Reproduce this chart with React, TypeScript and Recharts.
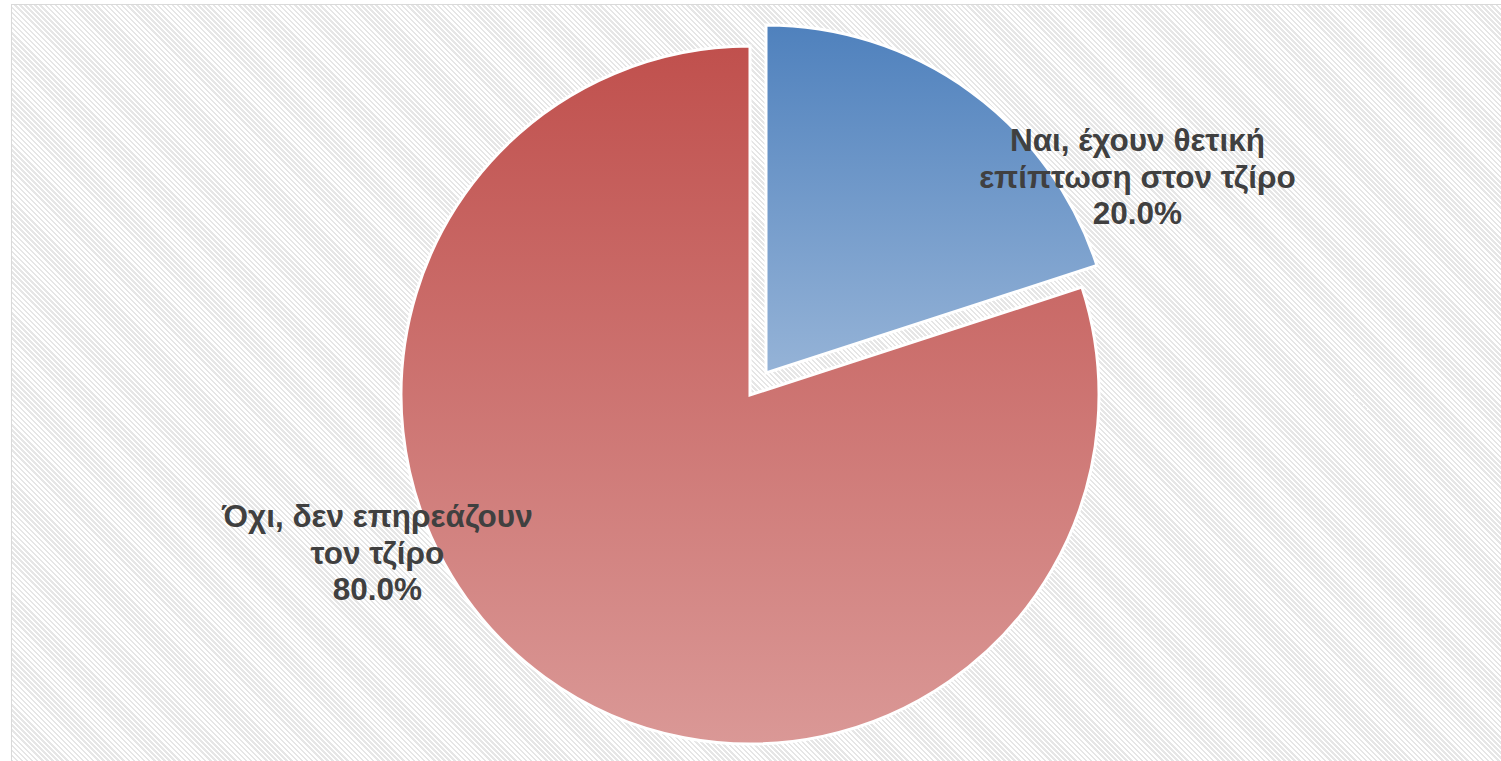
import { PieChart, Pie, Cell } from 'recharts'

const labels = ['Ναι, έχουν θετική|επίπτωση στον τζίρο', 'Όχι, δεν επηρεάζουν|τον τζίρο']
const shares = [20, 80]
const data = labels.map((name, i) => ({ name, value: shares[i] }))

const fills = ['url(#gBlue)', 'url(#gRed)']

// where each label's middle line sits, as a fraction of the radius from the pie centre
const labelSpot = [
  { fx: 1.0675, fy: -0.533 },
  { fx: -1.0676, fy: 0.483 },
]

const Label = (p: any) => {
  const { cx, cy, outerRadius, index, value } = p
  const spot = labelSpot[index]
  const x = cx + outerRadius * spot.fx
  const y = cy + outerRadius * spot.fy
  const lines = [...data[index].name.split('|'), `${value.toFixed(1)}%`]
  return (
    <text x={x} y={y} textAnchor="middle" fill="#404040" fontSize={31.5} fontWeight="bold" fontFamily="'Liberation Sans', Arial, sans-serif">
      {lines.map((l, i) => (
        <tspan key={i} x={x} dy={i === 0 ? -36.5 : 36.5}>{l}</tspan>
      ))}
    </text>
  )
}

export default function App() {
  return (
    <div style={{ position: 'absolute', left: 0, top: 0, width: 1501, height: 761, background: '#fff', overflow: 'hidden' }}>
      <div style={{
        position: 'absolute', left: 11, top: 4, width: 1520, height: 780,
        border: '1.5px solid #d9d9d9',
        background: 'repeating-linear-gradient(45deg, #ffffff 0px, #ffffff 1.8px, #e6e6e6 1.8px, #e6e6e6 3.6px)',
      }} />
      <div style={{ position: 'absolute', left: 0, top: 0 }}>
        <PieChart width={1501} height={761} margin={{ top: 0, right: 0, bottom: 0, left: 0 }}>
          <defs>
            <linearGradient id="gBlue" x1="0" y1="0" x2="0" y2="1">
              <stop offset="0%" stopColor="#4f81bd" />
              <stop offset="100%" stopColor="#95b3d7" />
            </linearGradient>
            <linearGradient id="gRed" x1="0" y1="0" x2="0" y2="1">
              <stop offset="0%" stopColor="#c0504d" />
              <stop offset="100%" stopColor="#da9896" />
            </linearGradient>
          </defs>
          {/* exploded slice */}
          <Pie data={data} dataKey="value" cx={766} cy={373} outerRadius={348} startAngle={90} endAngle={-270}
            stroke="#fff" strokeWidth={3} isAnimationActive={false} labelLine={false}
            label={(p: any) => (p.index === 0 ? <Label {...p} /> : null)}>
            {data.map((d, i) => (
              <Cell key={d.name} fill={i === 0 ? fills[i] : 'none'} stroke={i === 0 ? '#fff' : 'none'} />
            ))}
          </Pie>
          <Pie data={data} dataKey="value" cx={750} cy={395} outerRadius={349} startAngle={90} endAngle={-270}
            stroke="#fff" strokeWidth={3} isAnimationActive={false} labelLine={false}
            label={(p: any) => (p.index === 1 ? <Label {...p} /> : null)}>
            {data.map((d, i) => (
              <Cell key={d.name} fill={i === 1 ? fills[i] : 'none'} stroke={i === 1 ? '#fff' : 'none'} />
            ))}
          </Pie>
        </PieChart>
      </div>
    </div>
  )
}
